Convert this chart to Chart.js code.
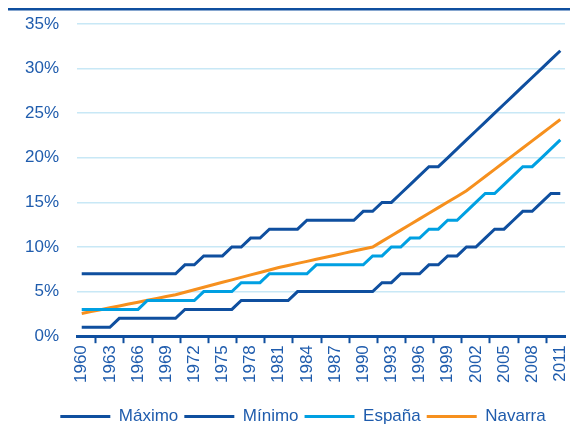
<!DOCTYPE html>
<html>
<head>
<meta charset="utf-8">
<script src="https://cdn.jsdelivr.net/npm/chart.js@4.4.0/dist/chart.umd.min.js"></script>
<style>
  body { margin: 0; background: #fff; }
  .chart { width: 570px; height: 437px; position: relative; }
</style>
</head>
<body>
<div class="chart">
  <canvas id="myChart"></canvas>
</div>
<script>
  // años de la serie
  const anios = [1960, 1961, 1962, 1963, 1964, 1965, 1966, 1967, 1968, 1969,
    1970, 1971, 1972, 1973, 1974, 1975, 1976, 1977, 1978, 1979,
    1980, 1981, 1982, 1983, 1984, 1985, 1986, 1987, 1988, 1989,
    1990, 1991, 1992, 1993, 1994, 1995, 1996, 1997, 1998, 1999,
    2000, 2001, 2002, 2003, 2004, 2005, 2006, 2007, 2008, 2009,
    2010, 2011];

  // porcentajes (%)
  const maximo = [7, 7, 7, 7, 7, 7, 7, 7, 7, 7,
    7, 8, 8, 9, 9, 9, 10, 10, 11, 11,
    12, 12, 12, 12, 13, 13, 13, 13, 13, 13,
    14, 14, 15, 15, 16, 17, 18, 19, 19, 20,
    21, 22, 23, 24, 25, 26, 27, 28, 29, 30,
    31, 32];

  const minimo = [1, 1, 1, 1, 2, 2, 2, 2, 2, 2,
    2, 3, 3, 3, 3, 3, 3, 4, 4, 4,
    4, 4, 4, 5, 5, 5, 5, 5, 5, 5,
    5, 5, 6, 6, 7, 7, 7, 8, 8, 9,
    9, 10, 10, 11, 12, 12, 13, 14, 14, 15,
    16, 16];

  const espana = [3, 3, 3, 3, 3, 3, 3, 4, 4, 4,
    4, 4, 4, 5, 5, 5, 5, 6, 6, 6,
    7, 7, 7, 7, 7, 8, 8, 8, 8, 8,
    8, 9, 9, 10, 10, 11, 11, 12, 12, 13,
    13, 14, 15, 16, 16, 17, 18, 19, 19, 20,
    21, 22];

  const navarra = [2.55, 2.76, 2.97, 3.18, 3.39, 3.6, 3.81, 4.02, 4.23, 4.44,
    4.65, 4.93, 5.2, 5.48, 5.76, 6.04, 6.31, 6.59, 6.87, 7.14,
    7.42, 7.7, 7.93, 8.16, 8.39, 8.62, 8.85, 9.08, 9.31, 9.54,
    9.77, 10, 10.63, 11.26, 11.89, 12.52, 13.15, 13.78, 14.41, 15.04,
    15.67, 16.3, 17.1, 17.9, 18.7, 19.5, 20.3, 21.1, 21.9, 22.7,
    23.5, 24.3];

  const azulOscuro = '#0f4f9f';
  const azulClaro = '#00a0e2';
  const naranja = '#f6901e';
  const azulTexto = '#1f5cad';
  const rejilla = '#c8e8f6';

  // raya azul que cierra la cabecera
  const lineaSuperior = {
    id: 'lineaSuperior',
    beforeDraw(chart) {
      const c = chart.ctx;
      c.save();
      c.fillStyle = azulOscuro;
      c.fillRect(8, 8, chart.width - 8, 2.5);
      c.restore();
    }
  };

  // la leyenda va centrada bajo el área de datos, no bajo todo el lienzo
  const centraLeyenda = {
    id: 'centraLeyenda',
    afterLayout(chart) {
      chart.legend.left += 34;
    }
  };

  const ctx = document.getElementById('myChart').getContext('2d');

  Chart.defaults.font.family = '"Liberation Sans", Arial, sans-serif';

  const myChart = new Chart(ctx, {
    type: 'line',
    data: {
      labels: anios,
      datasets: [
        { label: 'Máximo', data: maximo, borderColor: azulOscuro, backgroundColor: azulOscuro, borderWidth: 3 },
        { label: 'Mínimo', data: minimo, borderColor: azulOscuro, backgroundColor: azulOscuro, borderWidth: 3 },
        { label: 'España', data: espana, borderColor: azulClaro, backgroundColor: azulClaro, borderWidth: 3 },
        { label: 'Navarra', data: navarra, borderColor: naranja, backgroundColor: naranja, borderWidth: 3 },
      ],
    },
    options: {
      responsive: true,
      maintainAspectRatio: false,
      animation: false,
      layout: { padding: { top: 24, left: 7, right: 5, bottom: 2 } },
      elements: {
        line: { tension: 0 },
        point: { radius: 0 },
      },
      plugins: {
        legend: {
          position: 'bottom',
          labels: {
            usePointStyle: true,
            pointStyle: 'line',
            pointStyleWidth: 50,
            color: azulTexto,
            font: { size: 17 },
            padding: 6,
          },
        },
        tooltip: { enabled: false },
      },
      scales: {
        x: {
          offset: true,
          // hueco entre los años y la leyenda, sin margen lateral extra
          afterFit: scale => {
            scale.height += 17;
            scale.paddingLeft = 0;
            scale.paddingRight = 0;
          },
          grid: {
            display: true,
            offset: true,
            drawOnChartArea: false,
            drawTicks: true,
            tickLength: 7,
            tickWidth: 2,
            tickColor: azulOscuro,
          },
          border: { display: true, color: azulOscuro, width: 3 },
          ticks: {
            autoSkip: false,
            minRotation: 90,
            maxRotation: 90,
            color: azulTexto,
            font: { size: 17 },
            padding: 2,
            callback: function (value, index) {
              return index % 3 === 0 ? this.getLabelForValue(value) : null;
            },
          },
        },
        y: {
          min: 0,
          max: 35,
          afterFit: scale => {
            scale.paddingTop = 0;
            scale.paddingBottom = 0;
          },
          grid: { color: rejilla, lineWidth: 1.5, drawTicks: false },
          border: { display: false },
          ticks: {
            stepSize: 5,
            color: azulTexto,
            font: { size: 17 },
            padding: 18,
            callback: v => v + '%',
          },
        },
      },
    },
    plugins: [lineaSuperior, centraLeyenda],
  });
</script>
</body>
</html>
